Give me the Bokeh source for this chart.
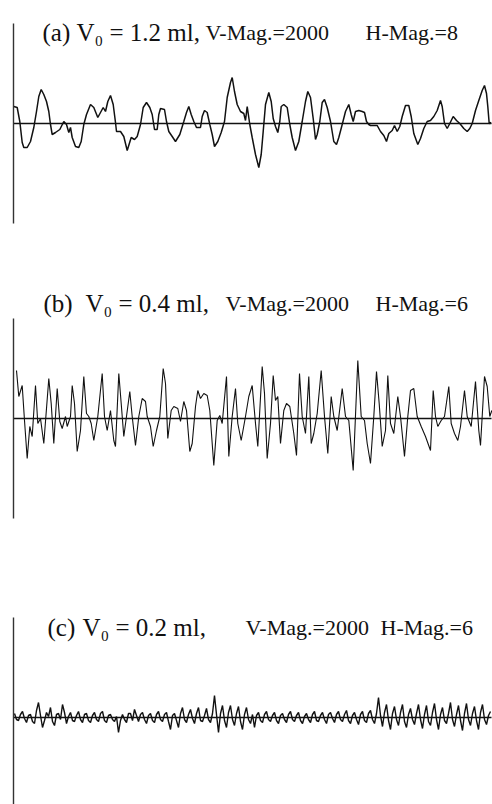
from bokeh.plotting import figure
from bokeh.layouts import column
from bokeh.models import Range1d, Label, LinearAxis, FixedTicker
from bokeh.embed import file_html
from bokeh.resources import INLINE

# ---------------- data (position along trace, deviation from mean line) ----------------
a_x = [0.3, 3.7, 6.3, 8.7, 10.3, 13.7, 17, 20.3, 23, 25.3,
       27.7, 30.3, 33, 35.3, 37, 38.7, 42, 46.3, 50.3, 53,
       55.3, 57, 58.7, 62, 65.3, 67.7, 70.3, 73, 77, 80.3,
       84.3, 87, 89.7, 92, 94.3, 97, 99.7, 102, 103, 107,
       110.3, 113.7, 117.7, 121, 123.7, 127, 129.7, 133, 136.3, 138.7,
       141, 143.7, 145.3, 147, 151, 153, 155.3, 158.7, 162, 166.3,
       170.3, 173, 175.3, 177.7, 180.3, 183, 187, 188.7, 191, 193.7,
       196.3, 198.7, 201, 204.3, 207.7, 211, 213.7, 217, 218.7, 221,
       223.7, 227, 230.3, 232, 233.7, 236.3, 238.7, 242, 245.3, 247.7,
       249.7, 252, 255.3, 257.7, 259.7, 262, 264.3, 266.3, 267.7, 270.3,
       273.7, 276.3, 278.7, 282, 285.3, 288.7, 292, 294.3, 297, 299.7,
       302, 303.7, 306.3, 308.7, 311, 313.7, 317, 320.3, 323, 325.3,
       328.7, 332, 335.3, 337.7, 339.7, 342, 345.3, 348.7, 351, 353,
       355.3, 357, 360.3, 363.7, 367, 370.3, 373, 375.3, 378.7, 381,
       383.7, 386.3, 388.7, 392, 395.3, 397.7, 400.3, 404.3, 407, 410.3,
       413.7, 417, 420.3, 423.7, 427, 428.7, 431, 433.7, 436.3, 439.7,
       443, 446.3, 450.3, 453.7, 456.3, 458.7, 462, 465.3, 468.7, 471,
       473, 474.3, 475.7, 477.7]
a_y = [17, 16, 2, -19, -24, -24, -18, -4, 12, 27,
       34, 29, 22, 12, -1, -11, -9, -6, 2, -1,
       -9, -4, -14, -23, -24, -18, -1, 9, 19, 16,
       6, 11, 16, 12, 22, 28, 19, 1, -8, -8,
       -13, -27, -14, -16, -13, -1, 16, 21, 16, 9,
       -6, -6, 9, 15, 14, 2, -8, -13, -18, -11,
       2, 11, 17, 9, 2, -4, -4, 7, 13, 11,
       -1, -11, -23, -18, -9, 2, 26, 41, 46, 32,
       19, 12, 10, 3, 17, -1, -14, -31, -44, -31,
       -8, 19, 31, 22, 5, -3, -9, 2, 17, 19,
       16, -1, -14, -27, -18, 2, 22, 32, 26, 5,
       -16, -11, 2, 21, 24, 16, 2, -18, -21, -14,
       -1, 12, 19, 9, 2, 12, 13, 12, 11, 2,
       -1, -2, -2, -2, -8, -12, -18, -10, -7, -2,
       -8, -3, 7, 18, 18, 7, -10, -21, -15, -5,
       2, 3, 7, 13, 23, 17, 0, -5, 0, 7,
       3, 0, -5, -8, -5, 0, 13, 23, 33, 38,
       30, 17, 0, 1]

b_x = [3, 5.3, 8.7, 11, 13.7, 16.3, 18.7, 22, 24.3, 27,
       30.3, 35.3, 37.7, 40.3, 43.7, 46.3, 48.7, 52, 53.7, 57,
       58.7, 61, 63.7, 67, 70.3, 73, 75.3, 77.7, 80.3, 84.3,
       88.7, 91, 93.7, 97, 100.3, 102, 105.3, 107.7, 110.3, 113,
       116.3, 118.7, 122, 125.3, 128.7, 132, 133.7, 137, 139.7, 143,
       146.3, 149.7, 152, 154.3, 157.7, 160.3, 164.3, 167, 170.3, 173,
       176.3, 178.7, 182, 184.3, 187, 190.3, 193.7, 196.3, 200.3, 203.7,
       206.3, 208.7, 213, 215.3, 218.7, 222, 224.3, 227.7, 232, 235.3,
       238.7, 242, 244.3, 248.7, 251, 253.7, 257, 259.7, 262, 264.3,
       267, 270.3, 273, 276.3, 280.3, 283, 286, 288.7, 292, 295.3,
       297.7, 300.3, 303.7, 307.7, 311, 314.3, 317.7, 320.3, 323.7, 328.7,
       332, 335.3, 339.7, 344.3, 347.7, 351, 353.7, 357, 360.3, 363,
       365.7, 368.7, 372, 374.3, 377, 380.3, 384.3, 387, 391, 394.3,
       397, 400.3, 403.7, 407.7, 412, 417, 419.7, 422, 424.3, 427.7,
       431, 435.3, 437.7, 441, 444.3, 447, 451, 453.7, 457.7, 462,
       465.3, 467, 471, 473.7, 476.3, 478.3]
b_y = [48, 22, 33, -2, -40, -8, -18, 33, -5, 0,
       -25, 40, 15, -25, 30, -3, -10, 2, -8, 2,
       33, 15, -33, -12, 42, 5, 2, -5, -22, 2,
       45, 2, -12, 8, -22, -28, 45, 15, -18, 2,
       27, 2, -27, 2, 20, 17, 2, -8, -28, -12,
       2, 50, 35, -20, 8, 12, 10, -3, 17, 8,
       -33, -25, 12, 28, 20, 25, 23, 8, -47, -2,
       3, -5, 42, -38, 2, 30, -5, -22, 2, 22,
       33, -5, -28, 52, 25, -40, -5, 43, 18, 22,
       -25, 8, 15, 12, -15, -37, 45, 2, -15, 42,
       -25, -15, 5, 48, 2, -35, 22, 2, -12, 30,
       2, -2, -52, 58, 2, -2, -25, -45, 2, 47,
       15, -28, -12, 43, -5, -15, 22, 2, -38, 2,
       28, 30, 2, -8, -18, -32, 28, 2, -8, -2,
       2, 32, -5, -15, -22, -8, 28, 2, -8, 37,
       -12, -27, 42, 32, 2, 8]

c_x = [1, 3, 5, 7, 9, 11, 13, 15, 17, 19, 21, 23, 25, 27, 29, 31, 33, 35, 37, 39,
       41, 43, 45, 47, 49, 51, 53, 55, 57, 59, 61, 63, 65, 67, 69, 71, 73, 75, 77, 79,
       81, 83, 85, 87, 89, 91, 93, 95, 97, 99, 101, 103, 105, 107, 109, 111, 113, 115, 117, 119,
       121, 123, 125, 127, 129, 131, 133, 135, 137, 139, 141, 143, 145, 147, 149, 151, 153, 155, 157, 159,
       161, 163, 165, 167, 169, 171, 173, 175, 177, 179, 181, 183, 185, 187, 189, 191, 193, 195, 197, 199,
       201, 203, 205, 207, 209, 211, 213, 215, 217, 219, 221, 223, 225, 227, 229, 231, 233, 235, 237, 239,
       241, 243, 245, 247, 249, 251, 253, 255, 257, 259, 261, 263, 265, 267, 269, 271, 273, 275, 277, 279,
       281, 283, 285, 287, 289, 291, 293, 295, 297, 299, 301, 303, 305, 307, 309, 311, 313, 315, 317, 319,
       321, 323, 325, 327, 329, 331, 333, 335, 337, 339, 341, 343, 345, 347, 349, 351, 353, 355, 357, 359,
       361, 363, 365, 367, 369, 371, 373, 375, 377, 379, 381, 383, 385, 387, 389, 391, 393, 395, 397, 399,
       401, 403, 405, 407, 409, 411, 413, 415, 417, 419, 421, 423, 425, 427, 429, 431, 433, 435, 437, 439,
       441, 443, 445, 447, 449, 451, 453, 455, 457, 459, 461, 463, 465, 467, 469, 471, 473, 475, 477]
c_y = [4, -2, -3, 3, 6, -1, -5, 2, 3, -4, -6, 7, 15, 2, -10, -3, 5, 1, 10, -4,
       -8, 3, 4, -2, 13, 5, -6, 1, 5, -3, -4, 2, 6, -2, -5, 3, 4, -3, -5, 2,
       5, -2, -4, 4, 6, -3, -5, 2, 3, -2, -4, 1, -15, -3, 3, -2, -5, 4, 4, -3,
       8, 2, -4, 3, 5, -2, -6, 2, 4, -3, -5, 3, 6, -2, -4, 3, 5, -4, -12, 2,
       4, -3, -10, 4, 10, -2, -5, 3, 8, -1, -6, 4, 10, -3, -4, 2, 9, -2, -5, 4,
       22, 3, -15, 4, 12, -3, -10, 5, 12, -2, -8, 4, 11, -4, -12, 3, 10, -2, -6, 3,
       -10, 2, 5, -3, -5, 3, 6, -2, -4, 2, 5, -3, -6, 2, 4, -2, -5, 3, 6, -2,
       -4, 2, 5, -3, -6, 1, 4, -2, -5, 3, 6, -3, -4, 2, 5, -2, -6, 3, 5, -1,
       -5, 3, 6, -2, -4, 3, 7, -3, -6, 2, 5, -2, -7, 3, 6, -3, -5, 4, 7, -2,
       -6, 4, 20, 2, -9, 5, 13, -3, -12, 4, 11, -2, -8, 5, 13, -4, -10, 3, 9, -2,
       -7, 4, 13, -2, -11, 3, 12, -4, -8, 5, 14, -2, -12, 3, 10, -3, -6, 4, 15, -2,
       -9, 3, 12, -3, -13, 4, 14, -2, -8, 4, 11, -3, -12, 5, 13, -2, -7, 2, 6]

titles_main = ["(a)", "(b)", "(c)"]
titles_vol = ["V\u2080 = 1.2 ml,", "V\u2080 = 0.4 ml,", "V\u2080 = 0.2 ml,"]
titles_vmag = ["V-Mag.=2000", "V-Mag.=2000", "V-Mag.=2000"]
titles_hmag = ["H-Mag.=8", "H-Mag.=6", "H-Mag.=6"]

FONT = "Liberation Serif"


def make_panel(h, ylo, yhi, xs, ys, lw, k, tx, ty):
    p = figure(width=492, height=h, x_range=Range1d(-13, 479), y_range=Range1d(ylo, yhi),
               output_backend="svg", toolbar_location=None,
               x_axis_type=None, y_axis_type=None, min_border=0,
               background_fill_color="white", border_fill_color="white",
               outline_line_color=None)
    yax = LinearAxis(fixed_location=0, bounds=(-100, 100), ticker=FixedTicker(ticks=[]),
                     major_tick_line_color=None, minor_tick_line_color=None,
                     major_label_text_font_size="0px", axis_line_width=1.4,
                     axis_line_color="#333333")
    p.add_layout(yax, "left")
    xax = LinearAxis(fixed_location=0, bounds=(0, 478), ticker=FixedTicker(ticks=[]),
                     major_tick_line_color=None, minor_tick_line_color=None,
                     major_label_text_font_size="0px", axis_line_width=1.4,
                     axis_line_color="#111111")
    p.add_layout(xax, "below")
    p.line(xs, ys, line_color="#111111", line_width=lw)
    big = dict(text_font=FONT, text_font_size="25px", text_color="#111111",
               text_baseline="alphabetic")
    small = dict(text_font=FONT, text_font_size="22px", text_color="#111111",
                 text_baseline="alphabetic")
    p.add_layout(Label(x=tx[0], y=ty, text=titles_main[k], **big))
    p.add_layout(Label(x=tx[1], y=ty, text=titles_vol[k], **big))
    p.add_layout(Label(x=tx[2], y=ty, text=titles_vmag[k], **small))
    p.add_layout(Label(x=tx[3], y=ty, text=titles_hmag[k], **small))
    return p


pa = make_panel(270, -147, 123, a_x, a_y, 1.5, 0, [29, 63, 192, 352], 91)
pb = make_panel(270, -122, 148, b_x, b_y, 1.1, 1, [30, 72, 212, 362], 115)
pc = make_panel(264, -87, 177, c_x, c_y, 1.4, 2, [34, 69, 232, 367], 90)

layout = column(pa, pb, pc, spacing=0)
open("out.html", "w").write(file_html(layout, INLINE))
